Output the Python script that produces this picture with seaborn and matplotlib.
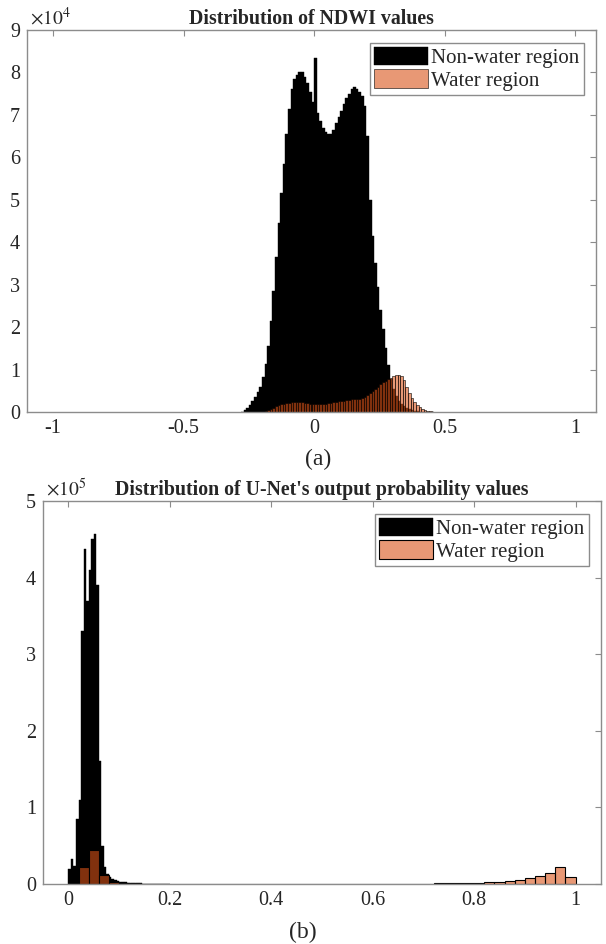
import numpy as np
import pandas as pd
import matplotlib
matplotlib.use('Agg')
import matplotlib.pyplot as plt
import seaborn as sns

# NDWI histogram, bin edges and counts (counts in units of 1e4)
ndwi_nonwater_edges = np.linspace(-0.28, 0.46, 75)
ndwi_nonwater = [0.01, 0.04, 0.09, 0.16, 0.25, 0.35, 0.46, 0.60, 0.82, 1.12,
                 1.55, 2.15, 2.85, 3.65, 4.45, 5.15, 5.85, 6.55, 7.15, 7.60,
                 7.85, 7.95, 8.02, 8.00, 7.90, 7.75, 7.55, 7.30, 8.35, 7.05,
                 6.85, 6.70, 6.60, 6.55, 6.55, 6.65, 6.80, 6.95, 7.10, 7.25,
                 7.40, 7.50, 7.60, 7.65, 7.62, 7.55, 7.45, 7.20, 6.50, 5.00,
                 4.15, 3.50, 2.95, 2.40, 1.95, 1.50, 1.10, 0.78, 0.55, 0.38,
                 0.27, 0.19, 0.13, 0.09, 0.06, 0.04, 0.025, 0.015, 0.01, 0.006,
                 0.004, 0.002, 0.001, 0.0]
ndwi_water_edges = np.linspace(-0.20, 0.47, 68)
ndwi_water = [0.01, 0.02, 0.04, 0.07, 0.10, 0.13, 0.16, 0.18, 0.20, 0.21,
              0.22, 0.23, 0.24, 0.24, 0.24, 0.23, 0.22, 0.21, 0.20, 0.20,
              0.20, 0.20, 0.20, 0.20, 0.20, 0.21, 0.22, 0.23, 0.24, 0.25,
              0.26, 0.27, 0.28, 0.29, 0.30, 0.30, 0.30, 0.30, 0.32, 0.35,
              0.39, 0.44, 0.50, 0.55, 0.60, 0.65, 0.70, 0.74, 0.77, 0.80,
              0.84, 0.87, 0.88, 0.85, 0.75, 0.60, 0.45, 0.33, 0.24, 0.17,
              0.12, 0.08, 0.05, 0.03, 0.015, 0.007, 0.003]

# U-Net output probability histogram (counts in units of 1e5)
unet_nonwater_edges = np.linspace(0.0, 0.2, 41)
unet_nonwater = [0.20, 0.32, 0.24, 0.85, 1.10, 3.30, 4.37, 3.70, 4.10, 4.50,
                 4.57, 3.90, 1.60, 0.50, 0.22, 0.13, 0.09, 0.07, 0.05, 0.04,
                 0.03, 0.025, 0.02, 0.018, 0.015, 0.012, 0.01, 0.009, 0.007, 0.006,
                 0.005, 0.004, 0.004, 0.003, 0.003, 0.003, 0.002, 0.002, 0.002, 0.002]
unet_water_edges = np.linspace(0.0, 1.0, 51)
unet_water = [0.003, 0.22, 0.45, 0.12, 0.02, 0.008, 0.005, 0.004, 0.003, 0.002,
              0, 0, 0, 0, 0, 0, 0, 0, 0, 0,
              0, 0, 0, 0, 0, 0, 0, 0,
              0.003, 0.003, 0.003, 0.003, 0.003, 0.003, 0.004, 0.005, 0.007, 0.008,
              0.01, 0.012, 0.016, 0.022, 0.03, 0.04, 0.055, 0.075, 0.105, 0.14,
              0.225, 0.088]

labels = ['Non-water region', 'Water region']
water_color = (0.85, 0.325, 0.098)
axis_gray = '#8c8c8c'

sns.set_theme(style='white')
plt.rcParams['font.family'] = ['Liberation Serif', 'DejaVu Serif']
plt.rcParams['mathtext.fontset'] = 'stix'
plt.rcParams['axes.unicode_minus'] = False


def hist_frame(edges, counts):
    return pd.DataFrame({'x': (edges[:-1] + edges[1:]) / 2, 'w': counts})


def draw(ax, nw_edges, nw_counts, w_edges, w_counts, lw_w):
    sns.histplot(data=hist_frame(nw_edges, nw_counts), x='x', weights='w',
                 bins=list(nw_edges), ax=ax, color='black', alpha=1,
                 edgecolor='black', linewidth=0.3, label=labels[0])
    sns.histplot(data=hist_frame(w_edges, w_counts), x='x', weights='w',
                 bins=list(w_edges), ax=ax, color=water_color, alpha=0.6,
                 edgecolor='black', linewidth=lw_w, label=labels[1])
    ax.set_xlabel('')
    ax.set_ylabel('')
    for s in ax.spines.values():
        s.set_color(axis_gray)
        s.set_linewidth(1.0)
    ax.tick_params(direction='in', top=True, right=True, length=4, width=0.8,
                   color=axis_gray, labelsize=14.5, labelcolor='#262626', pad=5)
    leg = ax.legend(loc='upper right', fontsize=15, frameon=True, fancybox=False,
                    edgecolor=axis_gray, handlelength=2.6, handleheight=1.0,
                    labelspacing=0.05, handletextpad=0.15, borderpad=0.2,
                    borderaxespad=0.6)
    leg.get_frame().set_linewidth(1.0)
    leg.get_frame().set_alpha(1)


fig = plt.figure(figsize=(6.06, 9.44), dpi=100)

ax1 = fig.add_axes([27 / 606, 1 - 412 / 944, 569 / 606, 382 / 944])
draw(ax1, ndwi_nonwater_edges, ndwi_nonwater, ndwi_water_edges, ndwi_water, 0.4)
ax1.set_xlim(-1.1, 1.08)
ax1.set_ylim(0, 9)
ax1.set_xticks([-1, -0.5, 0, 0.5, 1])
ax1.set_xticklabels(['-1', '-0.5', '0', '0.5', '1'])
ax1.set_yticks(range(10))
ax1.set_title('Distribution of NDWI values', fontsize=14.3, fontweight='bold', pad=4)
ax1.text(0.005, 1.004, r'$\times10^{4}$', transform=ax1.transAxes, fontsize=14,
         ha='left', va='bottom', color='#262626')

ax2 = fig.add_axes([43 / 606, 1 - 884 / 944, 558 / 606, 383 / 944])
draw(ax2, unet_nonwater_edges, unet_nonwater, unet_water_edges, unet_water, 0.8)
ax2.set_xlim(-0.05, 1.05)
ax2.set_ylim(0, 5)
ax2.set_xticks([0, 0.2, 0.4, 0.6, 0.8, 1])
ax2.set_xticklabels(['0', '0.2', '0.4', '0.6', '0.8', '1'])
ax2.set_yticks(range(6))
ax2.set_title("Distribution of U-Net's output probability values", fontsize=14.3,
              fontweight='bold', pad=4)
ax2.text(0.005, 1.004, r'$\times10^{5}$', transform=ax2.transAxes, fontsize=14,
         ha='left', va='bottom', color='#262626')

fig.text(318 / 606, 1 - 459 / 944, '(a)', fontsize=17, ha='center', va='center')
fig.text(303 / 606, 1 - 932 / 944, '(b)', fontsize=17, ha='center', va='center')

fig.savefig('out.png', dpi=100)
